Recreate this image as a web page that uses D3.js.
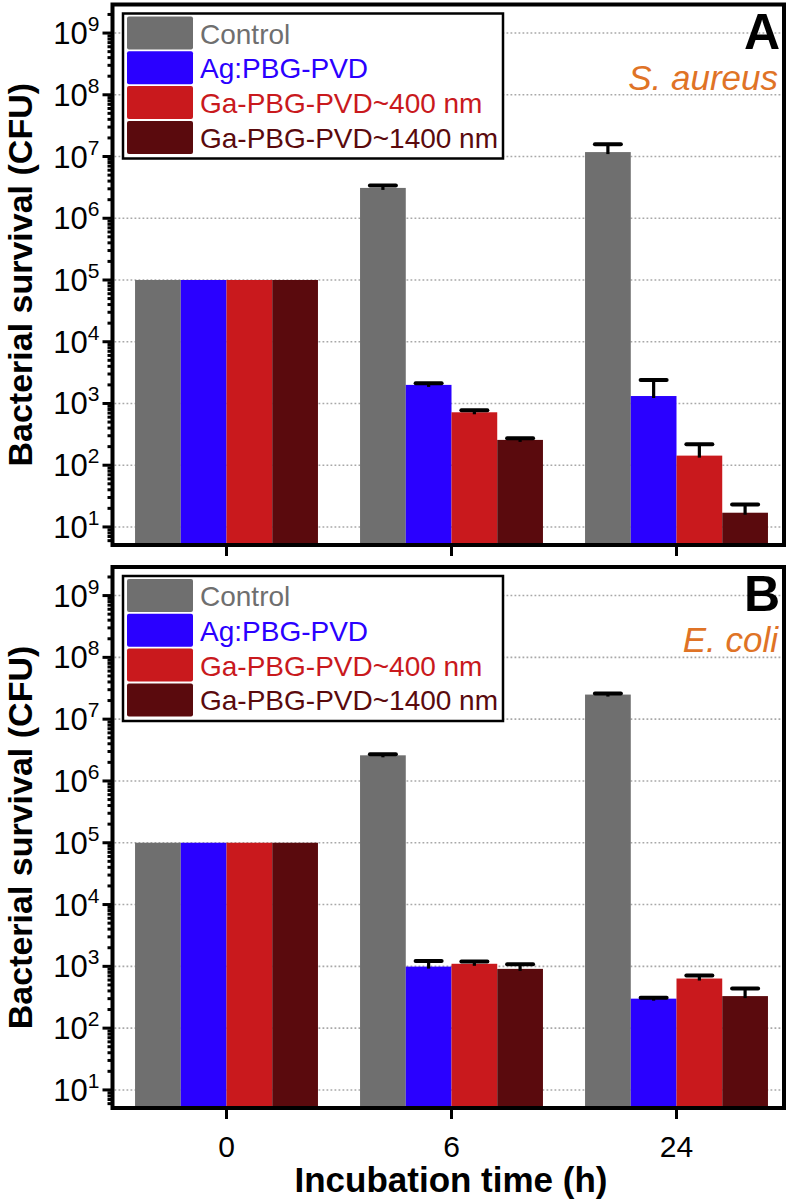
<!DOCTYPE html>
<html>
<head>
<meta charset="utf-8">
<script src="https://cdn.jsdelivr.net/npm/d3@7"></script>
<style>
  body { margin: 0; background: #fff; }
  text { font-family: "Liberation Sans", Arial, sans-serif; }
</style>
</head>
<body>
<div id="chart"></div>
<script>
// data
const times = ["0", "6", "24"];
const series = ["Control", "Ag:PBG-PVD", "Ga-PBG-PVD~400 nm", "Ga-PBG-PVD~1400 nm"];
const colors = ["#6f6f6f", "#2a00ff", "#c9191d", "#5a0a0d"];

// S. aureus: mean and upper error for each time (rows) / series (cols)
const aureusMean = [
  [1e5, 1e5, 1e5, 1e5],
  [3.1e6, 2.0e3, 720, 257],
  [1.18e7, 1.32e3, 143, 17]
];
const aureusUpper = [
  [null, null, null, null],
  [3.4e6, 2.12e3, 776, 274],
  [1.58e7, 2.4e3, 218, 23]
];
// E. coli
const coliMean = [
  [1e5, 1e5, 1e5, 1e5],
  [2.6e6, 990, 1100, 910],
  [2.5e7, 300, 635, 330]
];
const coliUpper = [
  [null, null, null, null],
  [2.7e6, 1215, 1197, 1083],
  [2.6e7, 309, 710, 437]
];

const yMajor = [1e1, 1e2, 1e3, 1e4, 1e5, 1e6, 1e7, 1e8, 1e9];

const width = 791, height = 1200;
const svg = d3.select("#chart").append("svg")
  .attr("width", width)
  .attr("height", height);

const left = 112.5, right = 784;

const x = d3.scaleBand()
  .domain(times)
  .range([114, 789])
  .paddingInner(0.187)
  .paddingOuter(0.0935);

const xs = d3.scaleBand()
  .domain(series)
  .range([0, x.bandwidth()]);

function drawPanel(top, bottom, mean, upper, letter, species) {
  const g = svg.append("g");
  const y = d3.scaleLog().domain([5.1, 2.9e9]).range([bottom, top]);

  // minor + major ticks
  const minor = [];
  for (let e = 0; e <= 9; e++) {
    for (let m = 2; m <= 9; m++) {
      const v = m * Math.pow(10, e);
      if (v >= 5.1 && v <= 2.9e9) minor.push(v);
    }
  }

  // dotted grid at decades
  g.selectAll(".grid")
    .data(yMajor)
    .enter().append("line")
    .attr("x1", left + 2).attr("x2", right - 2)
    .attr("y1", d => y(d)).attr("y2", d => y(d))
    .attr("stroke", "#a8a8a8")
    .attr("stroke-width", 1.6)
    .attr("stroke-dasharray", "1.8,2.2");

  // bars
  const rows = [];
  mean.forEach((row, i) => row.forEach((v, j) => {
    rows.push({ t: times[i], s: series[j], c: colors[j], v: v, up: upper[i][j] });
  }));

  g.selectAll(".bar")
    .data(rows)
    .enter().append("rect")
    .attr("x", d => x(d.t) + xs(d.s))
    .attr("width", xs.bandwidth())
    .attr("y", d => y(d.v))
    .attr("height", d => bottom - y(d.v))
    .attr("fill", d => d.c);

  // error bars (upper only)
  const err = rows.filter(d => d.up != null);
  g.selectAll(".stem")
    .data(err)
    .enter().append("line")
    .attr("x1", d => x(d.t) + xs(d.s) + xs.bandwidth() / 2)
    .attr("x2", d => x(d.t) + xs(d.s) + xs.bandwidth() / 2)
    .attr("y1", d => y(d.v) + 2)
    .attr("y2", d => y(d.up))
    .attr("stroke", "#000")
    .attr("stroke-width", 3.2);
  g.selectAll(".cap")
    .data(err)
    .enter().append("line")
    .attr("x1", d => x(d.t) + xs(d.s) + xs.bandwidth() / 2 - 13)
    .attr("x2", d => x(d.t) + xs(d.s) + xs.bandwidth() / 2 + 13)
    .attr("y1", d => y(d.up))
    .attr("y2", d => y(d.up))
    .attr("stroke", "#000")
    .attr("stroke-width", 4)
    .attr("stroke-linecap", "round");

  // frame
  g.append("rect")
    .attr("x", left).attr("y", top)
    .attr("width", right - left).attr("height", bottom - top)
    .attr("fill", "none")
    .attr("stroke", "#000")
    .attr("stroke-width", 4);

  // y ticks
  g.selectAll(".ytick")
    .data(minor.concat(yMajor))
    .enter().append("line")
    .attr("x1", left)
    .attr("x2", d => yMajor.includes(d) ? left - 10 : left - 5)
    .attr("y1", d => y(d)).attr("y2", d => y(d))
    .attr("stroke", "#000")
    .attr("stroke-width", 3);

  const lab = g.selectAll(".ylab")
    .data(yMajor)
    .enter().append("text")
    .attr("x", left - 13)
    .attr("y", d => y(d) + 11)
    .attr("text-anchor", "end")
    .attr("font-size", 31);
  lab.append("tspan").text("10");
  lab.append("tspan")
    .attr("dy", -13)
    .attr("font-size", 21)
    .text(d => Math.round(Math.log10(d)));

  // x ticks
  g.selectAll(".xtick")
    .data(times)
    .enter().append("line")
    .attr("x1", d => x(d) + x.bandwidth() / 2)
    .attr("x2", d => x(d) + x.bandwidth() / 2)
    .attr("y1", bottom)
    .attr("y2", bottom + 11)
    .attr("stroke", "#000")
    .attr("stroke-width", 3);

  // y title
  g.append("text")
    .attr("transform", `translate(32,${(top + bottom) / 2}) rotate(-90)`)
    .attr("text-anchor", "middle")
    .attr("font-size", 34)
    .attr("font-weight", "bold")
    .text("Bacterial survival (CFU)");

  // legend
  const lg = g.append("g").attr("transform", `translate(123,${top + 9})`);
  lg.append("rect")
    .attr("width", 380).attr("height", 145)
    .attr("fill", "#fff")
    .attr("stroke", "#000")
    .attr("stroke-width", 2.5);
  const item = lg.selectAll(".item")
    .data(series)
    .enter().append("g")
    .attr("transform", (d, i) => `translate(4,${3 + i * 34.8})`);
  item.append("rect")
    .attr("width", 66).attr("height", 33)
    .attr("rx", 2)
    .attr("fill", (d, i) => colors[i]);
  item.append("text")
    .attr("x", 73)
    .attr("y", 27)
    .attr("font-size", 28)
    .attr("fill", (d, i) => colors[i])
    .text(d => d);

  // panel letter and species
  g.append("text")
    .attr("x", right - 4)
    .attr("y", top + 44)
    .attr("text-anchor", "end")
    .attr("font-size", 50)
    .attr("font-weight", "bold")
    .text(letter);
  g.append("text")
    .attr("x", right - 6)
    .attr("y", top + 85)
    .attr("text-anchor", "end")
    .attr("font-size", 35)
    .attr("font-style", "italic")
    .attr("fill", "#df7326")
    .text(species);

  return g;
}

drawPanel(4.5, 545, aureusMean, aureusUpper, "A", "S. aureus");
drawPanel(567, 1108, coliMean, coliUpper, "B", "E. coli");

// x tick labels and title under panel B
svg.selectAll(".xlab")
  .data(times)
  .enter().append("text")
  .attr("x", d => x(d) + x.bandwidth() / 2)
  .attr("y", 1157)
  .attr("text-anchor", "middle")
  .attr("font-size", 30)
  .text(d => d);

svg.append("text")
  .attr("x", 451)
  .attr("y", 1192)
  .attr("text-anchor", "middle")
  .attr("font-size", 35)
  .attr("font-weight", "bold")
  .text("Incubation time (h)");
</script>
</body>
</html>
